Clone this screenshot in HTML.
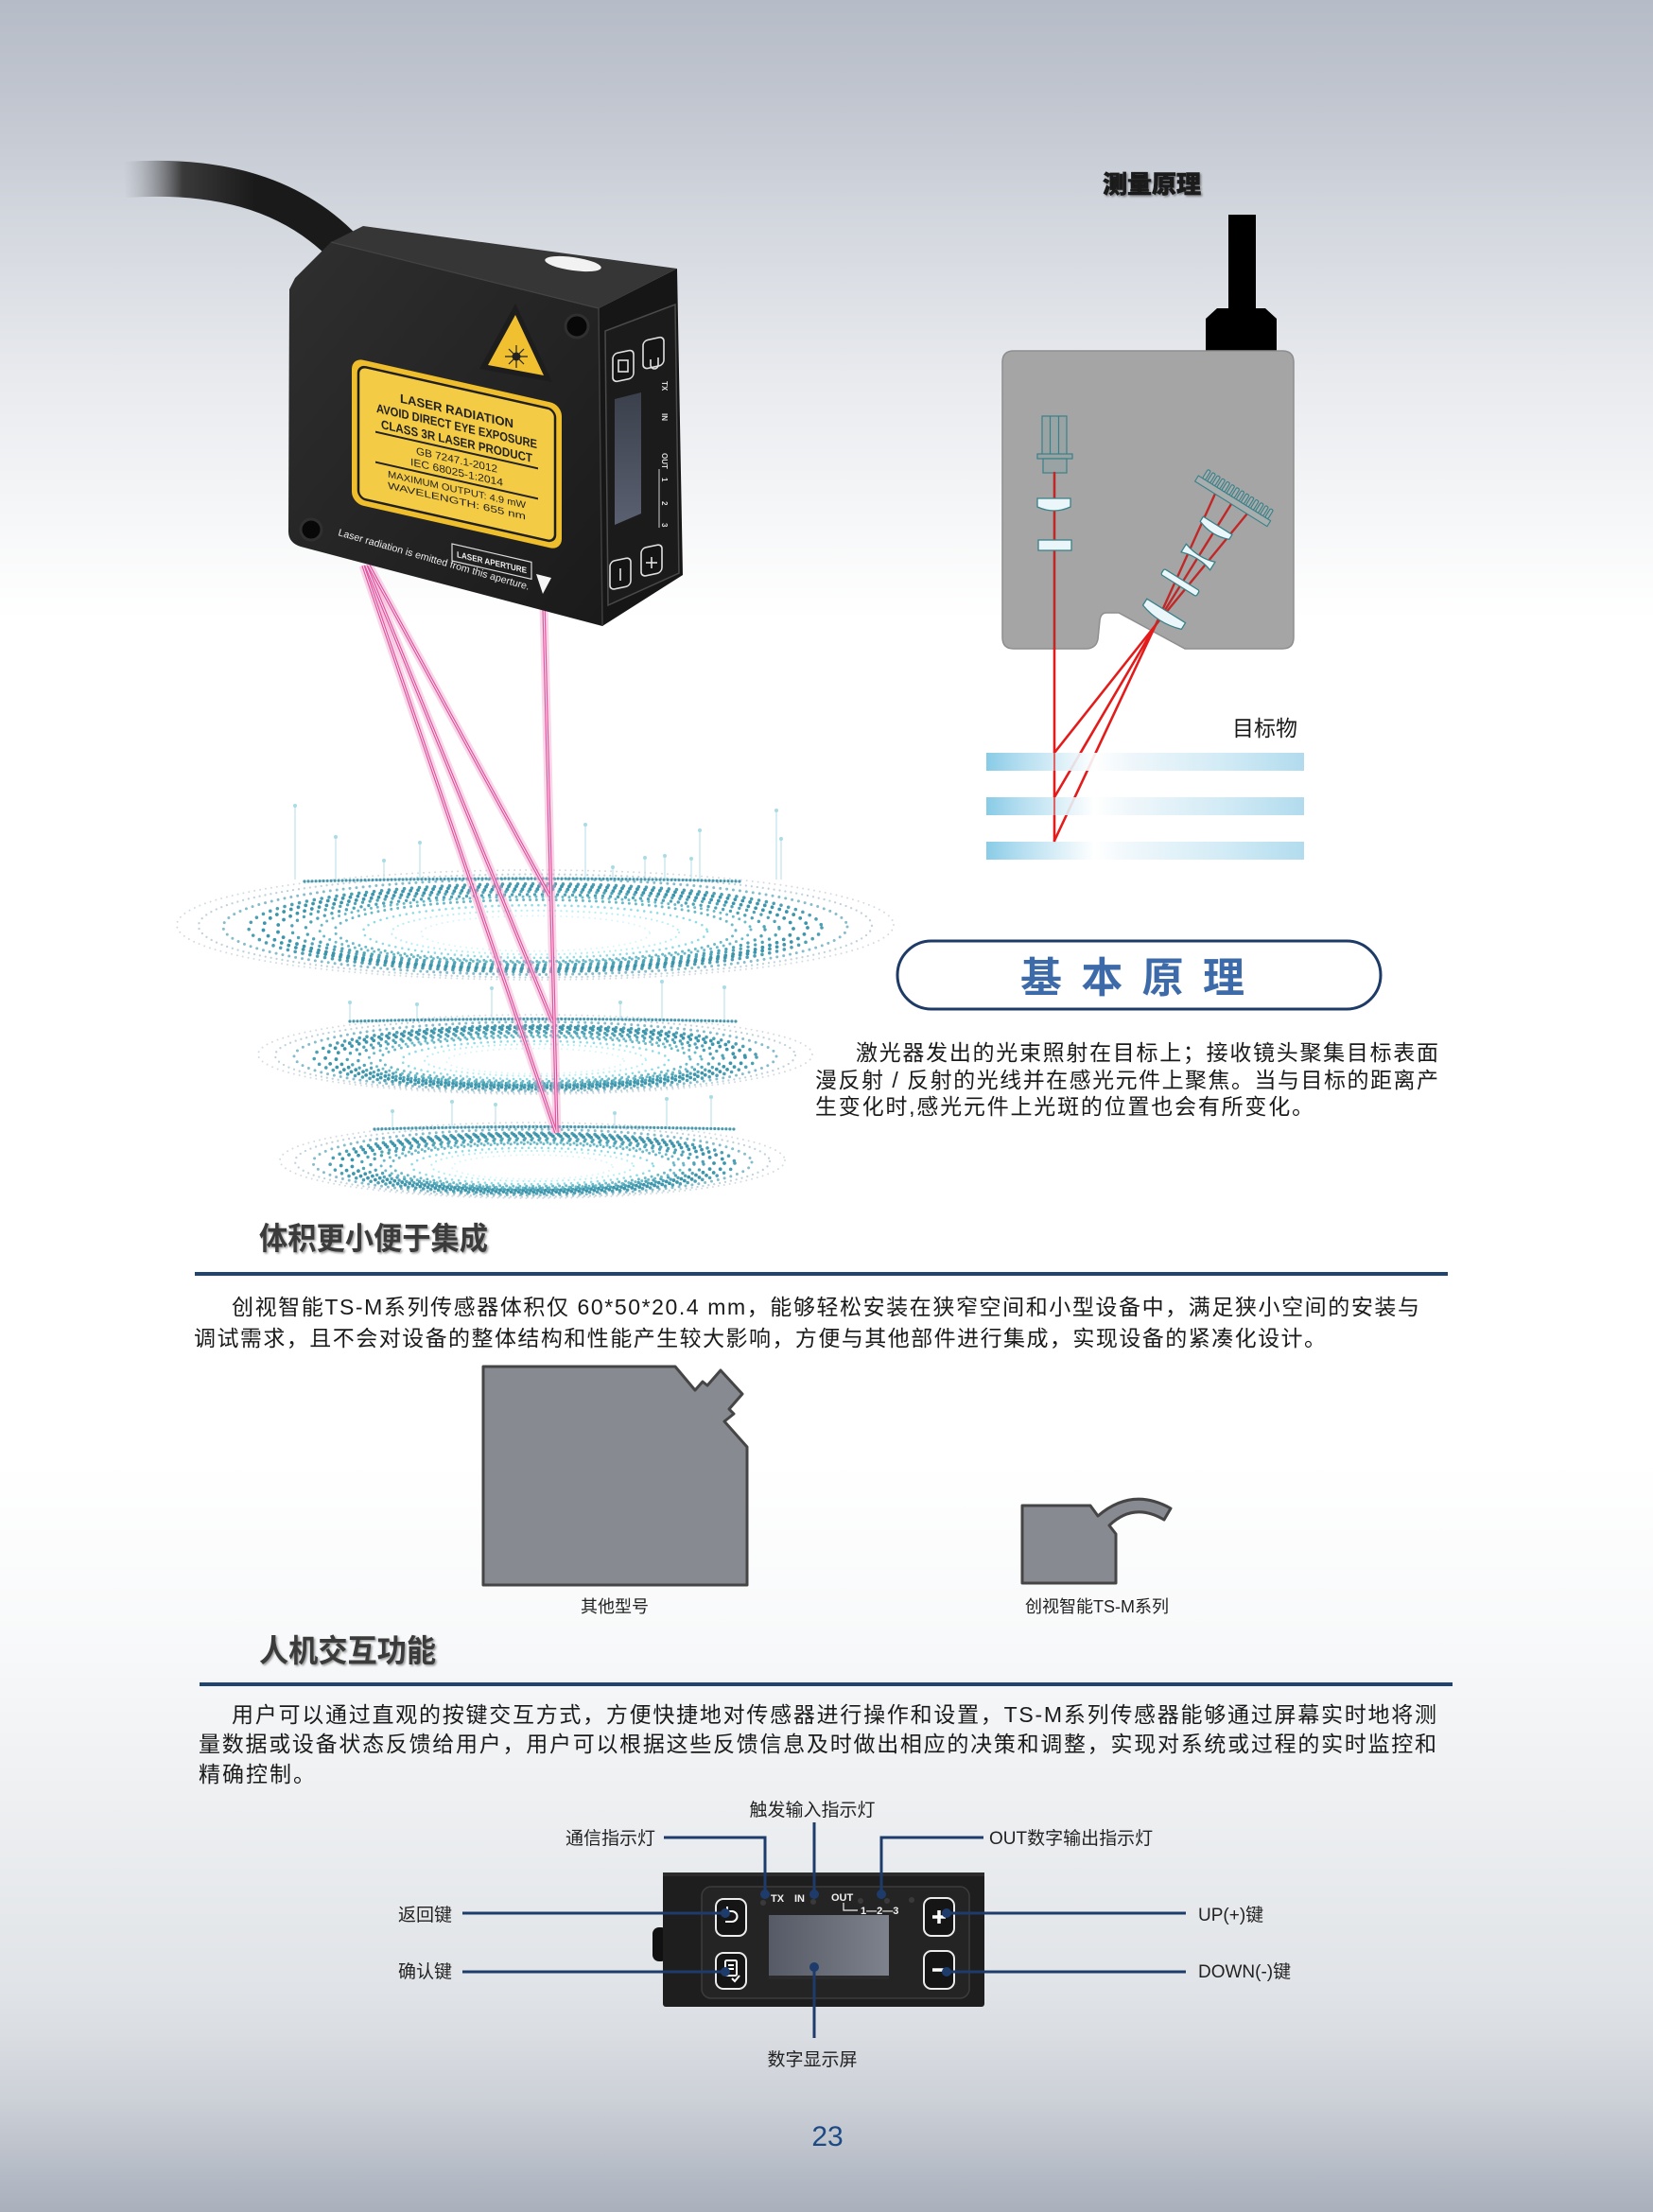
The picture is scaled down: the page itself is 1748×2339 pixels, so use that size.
<!DOCTYPE html>
<html><head><meta charset="utf-8">
<style>
html,body{margin:0;padding:0;background:#fff;}
body{width:1748px;height:2339px;overflow:hidden;}
svg{display:block;}
text{font-family:"Liberation Sans","Noto Sans CJK SC",sans-serif;}
.r1{fill:none;stroke:#d3dbe0;stroke-width:2;stroke-dasharray:0 6;stroke-linecap:round}
.r2{fill:none;stroke:#bfd2da;stroke-width:2.3;stroke-dasharray:0 6;stroke-linecap:round}
.r3{fill:none;stroke:#86bccb;stroke-width:3;stroke-dasharray:0 7;stroke-linecap:round}
.r4{fill:none;stroke:#4d9fb3;stroke-width:3.6;stroke-dasharray:0 8;stroke-linecap:round}
.r5{fill:none;stroke:#3d95ab;stroke-width:3.8;stroke-dasharray:0 8;stroke-linecap:round}
.r6{fill:none;stroke:#4ea3b6;stroke-width:3.4;stroke-dasharray:0 8;stroke-linecap:round}
.r7{fill:none;stroke:#6bbac8;stroke-width:3;stroke-dasharray:0 7;stroke-linecap:round}
.r8{fill:none;stroke:#8ddbe5;stroke-width:2.6;stroke-dasharray:0 7;stroke-linecap:round}
.r9{fill:none;stroke:#b5eef3;stroke-width:2.2;stroke-dasharray:0 6;stroke-linecap:round}
.r10{fill:none;stroke:#d8f6f8;stroke-width:2;stroke-dasharray:0 6;stroke-linecap:round}
.rim{fill:none;stroke:#4a98ad;stroke-width:3.2;stroke-dasharray:0 4;stroke-linecap:round}
.ant{stroke:#bfe3ea;stroke-width:1.2}
.antd{fill:#a9dbe5}
.beamg{fill:none;stroke:#f5a3cf;stroke-width:9;opacity:.45}
.beam{fill:none;stroke:#e0559f;stroke-width:3.4}
.beamc{fill:none;stroke:#fde3f0;stroke-width:1}
.lens{fill:#eaf6f9;stroke:#3a8088;stroke-width:1.3}
.nav{stroke:#1d3c6b;stroke-width:3;fill:none}
.lbl{font-size:19px;fill:#222}
</style></head><body>
<svg width="1748" height="2339" viewBox="0 0 1748 2339" xmlns="http://www.w3.org/2000/svg">
<defs>
 <linearGradient id="bg" x1="0" y1="0" x2="0" y2="1">
  <stop offset="0" stop-color="#b6bcc7"/>
  <stop offset="0.04" stop-color="#bfc4ce"/>
  <stop offset="0.1" stop-color="#d3d7de"/>
  <stop offset="0.17" stop-color="#e8eaee"/>
  <stop offset="0.24" stop-color="#f7f8f9"/>
  <stop offset="0.28" stop-color="#ffffff"/>
  <stop offset="0.66" stop-color="#ffffff"/>
  <stop offset="0.74" stop-color="#f8f9fa"/>
  <stop offset="0.81" stop-color="#eef0f2"/>
  <stop offset="0.9" stop-color="#e0e3e7"/>
  <stop offset="0.92" stop-color="#dadde2"/>
  <stop offset="0.95" stop-color="#ccd0d7"/>
  <stop offset="1" stop-color="#a9b0bc"/>
 </linearGradient>
 <linearGradient id="cab" x1="130" y1="0" x2="270" y2="0" gradientUnits="userSpaceOnUse">
  <stop offset="0" stop-color="#9a9ea6" stop-opacity="0"/>
  <stop offset="0.45" stop-color="#3a3a3a"/>
  <stop offset="1" stop-color="#1a1a1a"/>
 </linearGradient>
 <linearGradient id="front" x1="0" y1="0" x2="1" y2="1">
  <stop offset="0" stop-color="#2f2f2f"/>
  <stop offset="1" stop-color="#1a1a1a"/>
 </linearGradient>
 <linearGradient id="scr" x1="0" y1="0" x2="1" y2="0">
  <stop offset="0" stop-color="#555a66"/>
  <stop offset="1" stop-color="#7e828c"/>
 </linearGradient>
 <linearGradient id="scr2" x1="0" y1="0" x2="0" y2="1">
  <stop offset="0" stop-color="#3b404c"/>
  <stop offset="1" stop-color="#5a6070"/>
 </linearGradient>
 <linearGradient id="bar" x1="0" y1="0" x2="1" y2="0">
  <stop offset="0" stop-color="#7cc6e4"/>
  <stop offset="0.1" stop-color="#a9d9ee"/>
  <stop offset="0.34" stop-color="#ffffff"/>
  <stop offset="0.45" stop-color="#eef7fb"/>
  <stop offset="0.75" stop-color="#cde9f5"/>
  <stop offset="1" stop-color="#a9d8ec"/>
 </linearGradient>
 <filter id="sh" x="-5%" y="-20%" width="115%" height="150%">
  <feDropShadow dx="1.5" dy="1.5" stdDeviation="1" flood-color="#000" flood-opacity="0.4"/>
 </filter>
</defs>

<rect width="1748" height="2339" fill="url(#bg)"/>

<!-- ============ RIPPLE DISCS ============ -->
<g>
 <line class="ant" x1="312" y1="852" x2="312" y2="930"/><circle class="antd" cx="312" cy="852" r="2"/>
 <line class="ant" x1="355" y1="885" x2="355" y2="930"/><circle class="antd" cx="355" cy="885" r="2"/>
 <line class="ant" x1="406" y1="910" x2="406" y2="930"/><circle class="antd" cx="406" cy="910" r="2"/>
 <line class="ant" x1="444" y1="891" x2="444" y2="930"/><circle class="antd" cx="444" cy="891" r="2"/>
 <line class="ant" x1="619" y1="872" x2="619" y2="930"/><circle class="antd" cx="619" cy="872" r="2"/>
 <line class="ant" x1="648" y1="917" x2="648" y2="930"/><circle class="antd" cx="648" cy="917" r="2"/>
 <line class="ant" x1="682" y1="907" x2="682" y2="930"/><circle class="antd" cx="682" cy="907" r="2"/>
 <line class="ant" x1="703" y1="905" x2="703" y2="930"/><circle class="antd" cx="703" cy="905" r="2"/>
 <line class="ant" x1="731" y1="908" x2="731" y2="930"/><circle class="antd" cx="731" cy="908" r="2"/>
 <line class="ant" x1="740" y1="878" x2="740" y2="930"/><circle class="antd" cx="740" cy="878" r="2"/>
 <line class="ant" x1="821" y1="857" x2="821" y2="930"/><circle class="antd" cx="821" cy="857" r="2"/>
 <line class="ant" x1="826" y1="887" x2="826" y2="930"/><circle class="antd" cx="826" cy="887" r="2"/>
 <line class="ant" x1="370" y1="1060" x2="370" y2="1078"/><circle class="antd" cx="370" cy="1060" r="2"/>
 <line class="ant" x1="441" y1="1062" x2="441" y2="1078"/><circle class="antd" cx="441" cy="1062" r="2"/>
 <line class="ant" x1="520" y1="1045" x2="520" y2="1078"/><circle class="antd" cx="520" cy="1045" r="2"/>
 <line class="ant" x1="656" y1="1060" x2="656" y2="1078"/><circle class="antd" cx="656" cy="1060" r="2"/>
 <line class="ant" x1="700" y1="1038" x2="700" y2="1078"/><circle class="antd" cx="700" cy="1038" r="2"/>
 <line class="ant" x1="766" y1="1044" x2="766" y2="1078"/><circle class="antd" cx="766" cy="1044" r="2"/>
 <line class="ant" x1="415" y1="1175" x2="415" y2="1192"/><circle class="antd" cx="415" cy="1175" r="2"/>
 <line class="ant" x1="478" y1="1165" x2="478" y2="1192"/><circle class="antd" cx="478" cy="1165" r="2"/>
 <line class="ant" x1="524" y1="1168" x2="524" y2="1192"/><circle class="antd" cx="524" cy="1168" r="2"/>
 <line class="ant" x1="650" y1="1177" x2="650" y2="1192"/><circle class="antd" cx="650" cy="1177" r="2"/>
 <line class="ant" x1="705" y1="1162" x2="705" y2="1192"/><circle class="antd" cx="705" cy="1162" r="2"/>
 <line class="ant" x1="752" y1="1160" x2="752" y2="1192"/><circle class="antd" cx="752" cy="1160" r="2"/>

 <!-- disc 1 -->
 <ellipse class="r1" cx="566" cy="978" rx="379" ry="58"/>
 <ellipse class="r2" cx="566" cy="979" rx="356" ry="54.5"/>
 <ellipse class="r3" cx="566" cy="980" rx="330" ry="50.5"/>
 <ellipse class="r4" cx="566" cy="981" rx="303" ry="46.4"/>
 <ellipse class="r5" cx="566" cy="981" rx="288" ry="44"/>
 <ellipse class="r5" cx="566" cy="982" rx="273" ry="41.8"/>
 <ellipse class="r6" cx="566" cy="982" rx="258" ry="39.4"/>
 <ellipse class="r6" cx="566" cy="983" rx="243" ry="37.1"/>
 <ellipse class="r7" cx="566" cy="983" rx="228" ry="34.8"/>
 <ellipse class="r7" cx="566" cy="984" rx="212" ry="32.5"/>
 <ellipse class="r8" cx="566" cy="985" rx="182" ry="27.8"/>
 <ellipse class="r9" cx="566" cy="986" rx="152" ry="23.2"/>
 <ellipse class="r10" cx="566" cy="987" rx="121" ry="18.6"/>
 <path class="rim" d="M322,932 Q566,926 783,932"/>
 <!-- disc 2 -->
 <ellipse class="r1" cx="566" cy="1115" rx="293" ry="42"/>
 <ellipse class="r2" cx="566" cy="1116" rx="275" ry="39.5"/>
 <ellipse class="r3" cx="566" cy="1117" rx="255" ry="36.5"/>
 <ellipse class="r4" cx="566" cy="1118" rx="234" ry="33.6"/>
 <ellipse class="r5" cx="566" cy="1118" rx="222" ry="31.9"/>
 <ellipse class="r5" cx="566" cy="1118" rx="211" ry="30.2"/>
 <ellipse class="r6" cx="566" cy="1119" rx="199" ry="28.5"/>
 <ellipse class="r6" cx="566" cy="1119" rx="188" ry="26.9"/>
 <ellipse class="r7" cx="566" cy="1120" rx="176" ry="25.2"/>
 <ellipse class="r7" cx="566" cy="1120" rx="164" ry="23.5"/>
 <ellipse class="r8" cx="566" cy="1121" rx="141" ry="20.2"/>
 <ellipse class="r9" cx="566" cy="1121" rx="117" ry="16.8"/>
 <ellipse class="r10" cx="566" cy="1122" rx="94" ry="13.4"/>
 <path class="rim" d="M370,1080 Q566,1075 778,1080"/>
 <!-- disc 3 -->
 <ellipse class="r1" cx="563" cy="1227" rx="267" ry="40"/>
 <ellipse class="r2" cx="563" cy="1228" rx="251" ry="37.6"/>
 <ellipse class="r3" cx="563" cy="1229" rx="232" ry="34.8"/>
 <ellipse class="r4" cx="563" cy="1230" rx="214" ry="32"/>
 <ellipse class="r5" cx="563" cy="1230" rx="203" ry="30.4"/>
 <ellipse class="r5" cx="563" cy="1230" rx="192" ry="28.8"/>
 <ellipse class="r6" cx="563" cy="1231" rx="181" ry="27.2"/>
 <ellipse class="r6" cx="563" cy="1231" rx="171" ry="25.6"/>
 <ellipse class="r7" cx="563" cy="1232" rx="160" ry="24"/>
 <ellipse class="r7" cx="563" cy="1232" rx="150" ry="22.4"/>
 <ellipse class="r8" cx="563" cy="1233" rx="128" ry="19.2"/>
 <ellipse class="r9" cx="563" cy="1233" rx="107" ry="16"/>
 <ellipse class="r10" cx="563" cy="1234" rx="85" ry="12.8"/>
 <path class="rim" d="M396,1194 Q566,1189 778,1194"/>
</g>

<!-- ============ LASER BEAMS ============ -->
<g>
 <path class="beamg" d="M575,640 L589,1198"/>
 <path class="beamg" d="M390,598 L581,947"/>
 <path class="beamg" d="M387,598 L584,1080"/>
 <path class="beamg" d="M384,598 L588,1198"/>
 <path class="beam" d="M575,640 L589,1198"/>
 <path class="beam" d="M390,598 L581,947"/>
 <path class="beam" d="M387,598 L584,1080"/>
 <path class="beam" d="M384,598 L588,1198"/>
 <path class="beamc" d="M575,640 L589,1198"/>
 <path class="beamc" d="M390,598 L581,947"/>
 <path class="beamc" d="M387,598 L584,1080"/>
 <path class="beamc" d="M384,598 L588,1198"/>
</g>

<!-- ============ SENSOR ============ -->
<g>
 <path d="M132,190 C222,184 304,200 364,262" fill="none" stroke="url(#cab)" stroke-width="38"/>
 <polygon points="350,256 384,239 716,284 633,326" fill="#363636"/>
 <path d="M312,294 L350,256 L633,326 L637,662 L318,578 Q305,574 305,562 L306,306 Z" fill="url(#front)"/>
 <polygon points="633,326 716,284 722,608 637,662" fill="#161616"/>
 <line x1="633" y1="326" x2="637" y2="662" stroke="#3e3e3e" stroke-width="1.5"/>
 <line x1="350" y1="256" x2="633" y2="326" stroke="#444" stroke-width="1.2"/>
 <ellipse cx="606" cy="279" rx="30" ry="7" fill="#f2f2f2" transform="rotate(8 606 279)"/>
 <circle cx="610" cy="345" r="12" fill="#080808" stroke="#303030" stroke-width="3"/>
 <circle cx="329" cy="560" r="11" fill="#080808" stroke="#303030" stroke-width="3"/>

 <g transform="translate(372,378) skewY(12.7)">
  <rect x="0" y="0" width="222" height="154" rx="12" fill="#efbe2c"/>
  <rect x="7" y="7" width="208" height="140" rx="8" fill="#f4cb45" stroke="#1f1f1f" stroke-width="2.5"/>
  <g font-family="Liberation Sans, sans-serif" fill="#222" text-anchor="middle">
   <text x="111" y="36" font-size="13" font-weight="bold" textLength="120" lengthAdjust="spacingAndGlyphs">LASER RADIATION</text>
   <text x="111" y="52" font-size="13" font-weight="bold" textLength="170" lengthAdjust="spacingAndGlyphs">AVOID DIRECT EYE EXPOSURE</text>
   <text x="111" y="68" font-size="13" font-weight="bold" textLength="160" lengthAdjust="spacingAndGlyphs">CLASS 3R LASER PRODUCT</text>
   <line x1="25" y1="73" x2="197" y2="73" stroke="#222" stroke-width="2"/>
   <text x="111" y="87" font-size="11" textLength="86" lengthAdjust="spacingAndGlyphs">GB 7247.1-2012</text>
   <text x="111" y="100" font-size="11" textLength="98" lengthAdjust="spacingAndGlyphs">IEC 68025-1:2014</text>
   <line x1="25" y1="105" x2="197" y2="105" stroke="#222" stroke-width="2"/>
   <text x="111" y="118" font-size="10" textLength="146" lengthAdjust="spacingAndGlyphs">MAXIMUM OUTPUT: 4.9 mW</text>
   <text x="111" y="130" font-size="10" textLength="146" lengthAdjust="spacingAndGlyphs">WAVELENGTH:            655 nm</text>
  </g>
 </g>
 <polygon points="545,321 507,390 584,404" fill="#1d1d1d"/>
 <polygon points="545,333 516,386 575,397" fill="#f0c030"/>
 <circle cx="546" cy="377" r="4.5" fill="#222"/>
 <g stroke="#222" stroke-width="1.2">
  <line x1="546" y1="365" x2="546" y2="389"/><line x1="534" y1="377" x2="558" y2="377"/>
  <line x1="538" y1="369" x2="554" y2="385"/><line x1="554" y1="369" x2="538" y2="385"/>
 </g>
 <text transform="translate(357,566) rotate(16)" font-family="Liberation Sans, sans-serif" font-size="10.5" fill="#eee" textLength="210" lengthAdjust="spacingAndGlyphs">Laser radiation is emitted from this aperture.</text>
 <g transform="translate(478,575) skewY(13)">
  <rect x="0" y="0" width="84" height="18" fill="none" stroke="#ddd" stroke-width="1.2"/>
  <text x="42" y="13" text-anchor="middle" font-family="Liberation Sans, sans-serif" font-size="9" font-weight="bold" fill="#eee" textLength="74" lengthAdjust="spacingAndGlyphs">LASER APERTURE</text>
 </g>
 <polygon points="567,607 583,611 574,628" fill="#f5f5f5"/>

 <polygon points="640,350 714,322 718,606 643,640" fill="#1b1b1b" stroke="#4a4a4a" stroke-width="1.5"/>
 <polygon points="650,422 678,415 678,543 650,555" fill="url(#scr2)"/>
 <g fill="#141414" stroke="#e0e0e0" stroke-width="1.6">
  <rect x="648" y="372" width="22" height="30" rx="5" transform="skewY(-12) translate(0,140)"/>
  <rect x="680" y="360" width="22" height="30" rx="5" transform="skewY(-12) translate(0,145)"/>
  <rect x="645" y="592" width="22" height="30" rx="5" transform="skewY(-12) translate(0,139)"/>
  <rect x="678" y="580" width="22" height="30" rx="5" transform="skewY(-12) translate(0,144)"/>
 </g>
 <g stroke="#e0e0e0" stroke-width="1.6" fill="none">
  <rect x="654" y="381" width="10" height="12"/>
  <path d="M688,380 v6 a4,4 0 0 0 8,0 v-8"/>
  <line x1="656" y1="601" x2="656" y2="614"/>
  <line x1="689" y1="589" x2="689" y2="601"/><line x1="683" y1="595" x2="695" y2="595"/>
 </g>
 <g font-family="Liberation Sans, sans-serif" font-size="8" fill="#ddd" font-weight="bold">
  <text transform="translate(700,403) rotate(90)">TX</text>
  <text transform="translate(700,437) rotate(90)">IN</text>
  <text transform="translate(700,479) rotate(90)">OUT</text>
  <text transform="translate(700,505) rotate(90)">1</text>
  <text transform="translate(700,530) rotate(90)">2</text>
  <text transform="translate(700,553) rotate(90)">3</text>
 </g>
 <line x1="697" y1="496" x2="697" y2="558" stroke="#ccc" stroke-width="1"/>
</g>

<!-- ============ MEASUREMENT PRINCIPLE ============ -->
<text x="1166" y="204" font-size="26" font-weight="900" fill="#1a1a1a" stroke="#1a1a1a" stroke-width="0.6" textLength="104" lengthAdjust="spacingAndGlyphs" filter="url(#sh)">测量原理</text>
<rect x="1299" y="227" width="29" height="101" fill="#000"/>
<polygon points="1275,337 1287,326 1338,326 1350,337 1350,375 1275,375" fill="#000"/>
<path d="M1072,371 H1356 Q1368,371 1368,383 V674 Q1368,686 1356,686 H1253 L1183,648 H1170 Q1164,648 1163,656 L1161,676 Q1159,686 1148,686 H1072 Q1060,686 1060,674 V383 Q1060,371 1072,371 Z" fill="#a5a5a5" stroke="#8e8e8e" stroke-width="1.5"/>
<rect x="1102" y="440" width="26" height="41" fill="#9aa3a4" stroke="#3a8088" stroke-width="1.2"/>
<line x1="1110.5" y1="440" x2="1110.5" y2="481" stroke="#3a8088" stroke-width="1.2"/>
<line x1="1119.5" y1="440" x2="1119.5" y2="481" stroke="#3a8088" stroke-width="1.2"/>
<rect x="1097" y="480" width="37" height="5" fill="#9aa3a4" stroke="#3a8088" stroke-width="1.2"/>
<rect x="1103" y="485" width="25" height="15" fill="#9aa3a4" stroke="#3a8088" stroke-width="1.2"/>
<g stroke-linecap="round">
 <line x1="1115" y1="500" x2="1115" y2="686" stroke="#c02828" stroke-width="2.6"/>
 <line x1="1115" y1="686" x2="1115" y2="890" stroke="#e31b1b" stroke-width="2.6"/>
 <line x1="1115" y1="796" x2="1222" y2="661" stroke="#e31b1b" stroke-width="2.6"/>
 <line x1="1115" y1="843" x2="1222" y2="661" stroke="#e31b1b" stroke-width="2.6"/>
 <line x1="1115" y1="889" x2="1222" y2="661" stroke="#e31b1b" stroke-width="2.6"/>
 <line x1="1222" y1="661" x2="1285" y2="522" stroke="#c02828" stroke-width="2.4"/>
 <line x1="1222" y1="661" x2="1302" y2="533" stroke="#c02828" stroke-width="2.4"/>
 <line x1="1222" y1="661" x2="1319" y2="543" stroke="#c02828" stroke-width="2.4"/>
</g>
<path class="lens" d="M1097,527 H1132 V536 Q1114.5,544 1097,536 Z"/>
<rect class="lens" x="1098" y="571" width="35" height="11"/>
<path class="lens" transform="translate(1230,651) rotate(32)" d="M-24,-6 H24 V2 Q0,10 -24,2 Z"/>
<rect class="lens" transform="translate(1248,616) rotate(32)" x="-22" y="-3.5" width="44" height="7" rx="2"/>
<path class="lens" transform="translate(1267,589) rotate(32)" d="M-18,-5 Q0,1 18,-5 L18,5 Q0,-1 -18,5 Z"/>
<path class="lens" transform="translate(1285,560) rotate(32)" d="M-18,-5 H18 V1 Q0,8 -18,1 Z"/>
<g transform="translate(1306,526) rotate(32)" fill="#a8aeae" stroke="#3a8088" stroke-width="1.1">
 <rect x="-45" y="1" width="90" height="7"/>
 <rect x="-40" y="-10" width="3.5" height="11" rx="1.5"/>
 <rect x="-34" y="-10" width="3.5" height="11" rx="1.5"/>
 <rect x="-28" y="-10" width="3.5" height="11" rx="1.5"/>
 <rect x="-22" y="-10" width="3.5" height="11" rx="1.5"/>
 <rect x="-16" y="-10" width="3.5" height="11" rx="1.5"/>
 <rect x="-10" y="-10" width="3.5" height="11" rx="1.5"/>
 <rect x="-4" y="-10" width="3.5" height="11" rx="1.5"/>
 <rect x="2" y="-10" width="3.5" height="11" rx="1.5"/>
 <rect x="8" y="-10" width="3.5" height="11" rx="1.5"/>
 <rect x="14" y="-10" width="3.5" height="11" rx="1.5"/>
 <rect x="20" y="-10" width="3.5" height="11" rx="1.5"/>
 <rect x="26" y="-10" width="3.5" height="11" rx="1.5"/>
 <rect x="32" y="-10" width="3.5" height="11" rx="1.5"/>
 <rect x="38" y="-10" width="3.5" height="11" rx="1.5"/>
</g>
<g opacity="0.9">
 <rect x="1043" y="796" width="336" height="19" fill="url(#bar)"/>
 <rect x="1043" y="843" width="336" height="19" fill="url(#bar)"/>
 <rect x="1043" y="890" width="336" height="19" fill="url(#bar)"/>
</g>
<line x1="1115" y1="796" x2="1115" y2="890" stroke="#e31b1b" stroke-width="2" opacity="0.6"/>
<text x="1303" y="778" font-size="23" fill="#1a1a1a">目标物</text>

<!-- ============ BASIC PRINCIPLE ============ -->
<rect x="949" y="995" width="511" height="72" rx="36" fill="#fff" stroke="#1e3b68" stroke-width="3"/>
<text x="1079" y="1049" font-size="44" font-weight="bold" fill="#3d6aa8" textLength="237" lengthAdjust="spacing">基本原理</text>
<g font-size="23" fill="#1a1a1a">
 <text x="905" y="1121" textLength="616" lengthAdjust="spacing">激光器发出的光束照射在目标上；接收镜头聚集目标表面</text>
 <text x="862" y="1150" textLength="659" lengthAdjust="spacing">漫反射 / 反射的光线并在感光元件上聚焦。当与目标的距离产</text>
 <text x="862" y="1178" textLength="527" lengthAdjust="spacing">生变化时,感光元件上光斑的位置也会有所变化。</text>
</g>

<!-- ============ SECTION 2 ============ -->
<text x="274" y="1321" font-size="33" font-weight="bold" fill="#3a3a3a" textLength="242" lengthAdjust="spacingAndGlyphs" filter="url(#sh)">体积更小便于集成</text>
<rect x="206" y="1345" width="1325" height="4" fill="#1f4470"/>
<g font-size="23" fill="#1a1a1a">
 <text x="245" y="1390" textLength="1256" lengthAdjust="spacing">创视智能TS-M系列传感器体积仅 60*50*20.4 mm，能够轻松安装在狭窄空间和小型设备中，满足狭小空间的安装与</text>
 <text x="205" y="1423" textLength="1197" lengthAdjust="spacing">调试需求，且不会对设备的整体结构和性能产生较大影响，方便与其他部件进行集成，实现设备的紧凑化设计。</text>
</g>

<polygon points="511,1445 714,1445 735,1470 743,1461 748,1465 762,1449 785,1474 771,1490 776,1495 766,1503 790,1530 790,1676 511,1676" fill="#878a91" stroke="#454545" stroke-width="3" stroke-linejoin="round"/>
<path d="M1081,1592 L1153,1592 L1161,1603 Q1197,1572 1238,1595 L1231,1607 Q1199,1588 1173,1613 L1180,1622 L1180,1674 L1081,1674 Z" fill="#878a91" stroke="#454545" stroke-width="3" stroke-linejoin="round"/>
<text x="650" y="1705" font-size="18" fill="#222" text-anchor="middle">其他型号</text>
<text x="1160" y="1705" font-size="18" fill="#222" text-anchor="middle">创视智能TS-M系列</text>

<!-- ============ SECTION 3 ============ -->
<text x="274" y="1757" font-size="33" font-weight="bold" fill="#3a3a3a" textLength="187" lengthAdjust="spacingAndGlyphs" filter="url(#sh)">人机交互功能</text>
<rect x="211" y="1779" width="1325" height="4" fill="#1f4470"/>
<g font-size="23" fill="#1a1a1a">
 <text x="245" y="1821" textLength="1274" lengthAdjust="spacing">用户可以通过直观的按键交互方式，方便快捷地对传感器进行操作和设置，TS-M系列传感器能够通过屏幕实时地将测</text>
 <text x="210" y="1852" textLength="1309" lengthAdjust="spacing">量数据或设备状态反馈给用户，用户可以根据这些反馈信息及时做出相应的决策和调整，实现对系统或过程的实时监控和</text>
 <text x="210" y="1884" textLength="123" lengthAdjust="spacing">精确控制。</text>
</g>

<!-- ============ PANEL DEVICE ============ -->
<g>
 <rect x="690" y="2038" width="16" height="36" rx="7" fill="#111"/>
 <rect x="701" y="1980" width="340" height="142" rx="3" fill="#1e1e1e"/>
 <rect x="701" y="1980" width="340" height="4" fill="#2c2c2c"/>
 <rect x="742" y="1995" width="283" height="118" rx="10" fill="#242424" stroke="#3c3c3c" stroke-width="1.5"/>
 <rect x="813" y="2025" width="127" height="68" fill="url(#scr)"/>
 <rect x="813" y="2089" width="127" height="4" fill="#2a2a2a"/>
 <g fill="#151515" stroke="#ececec" stroke-width="2">
  <rect x="757" y="2008" width="32" height="39" rx="8"/>
  <rect x="757" y="2065" width="32" height="38" rx="8"/>
  <rect x="977" y="2007" width="32" height="40" rx="8"/>
  <rect x="977" y="2063" width="32" height="40" rx="8"/>
 </g>
 <g stroke="#fff" stroke-width="2" fill="none">
  <path d="M767,2021 h7 a5.5,5.5 0 0 1 0,11 h-7"/>
  <line x1="769" y1="2016" x2="769" y2="2020"/>
  <rect x="767" y="2073" width="12" height="16" rx="1.5"/>
  <line x1="770" y1="2078" x2="776" y2="2078"/>
  <line x1="770" y1="2082" x2="776" y2="2082"/>
  <path d="M774,2092 l3,3 l5,-6"/>
 </g>
 <g stroke="#fff" stroke-width="3.5">
  <line x1="986" y1="2027" x2="1000" y2="2027"/>
  <line x1="993" y1="2020" x2="993" y2="2034"/>
  <line x1="986" y1="2083" x2="1000" y2="2083"/>
 </g>
 <g font-family="Liberation Sans, sans-serif" font-weight="bold" font-size="11" fill="#f0f0f0">
  <text x="815" y="2011">TX</text>
  <text x="840" y="2011">IN</text>
  <text x="879" y="2010">OUT</text>
  <text x="910" y="2024" font-size="11">1—2—3</text>
 </g>
 <path d="M892,2012 V2020 H907" stroke="#f0f0f0" stroke-width="1.2" fill="none"/>
 <g fill="#3a3a3a">
  <circle cx="807" cy="2012" r="3"/>
  <circle cx="860" cy="2011" r="3"/>
  <circle cx="910" cy="2010" r="3"/>
  <circle cx="938" cy="2010" r="3"/>
  <circle cx="964" cy="2009" r="3"/>
 </g>
</g>
<g>
 <path class="nav" d="M702,1943 H809 V2003"/>
 <path class="nav" d="M861,1927 V2003"/>
 <path class="nav" d="M1040,1943 H932 V2003"/>
 <path class="nav" d="M489,2023 H767"/>
 <path class="nav" d="M489,2085 H767"/>
 <path class="nav" d="M1254,2023 H1001"/>
 <path class="nav" d="M1254,2085 H1001"/>
 <path class="nav" d="M861,2080 V2155"/>
 <g fill="#1d3c6b">
  <circle cx="809" cy="2003" r="5"/>
  <circle cx="861" cy="2003" r="5"/>
  <circle cx="932" cy="2003" r="5"/>
  <circle cx="767" cy="2023" r="5"/>
  <circle cx="767" cy="2085" r="5"/>
  <circle cx="1001" cy="2023" r="5"/>
  <circle cx="1001" cy="2085" r="5"/>
  <circle cx="861" cy="2080" r="5"/>
 </g>
</g>
<g class="lbl">
 <text class="lbl" x="693" y="1950" text-anchor="end">通信指示灯</text>
 <text class="lbl" x="859" y="1920" text-anchor="middle">触发输入指示灯</text>
 <text class="lbl" x="1046" y="1950">OUT数字输出指示灯</text>
 <text class="lbl" x="421" y="2031">返回键</text>
 <text class="lbl" x="421" y="2091">确认键</text>
 <text class="lbl" x="1267" y="2031">UP(+)键</text>
 <text class="lbl" x="1267" y="2091">DOWN(-)键</text>
 <text class="lbl" x="859" y="2184" text-anchor="middle">数字显示屏</text>
</g>

<text x="875" y="2269" font-size="30" fill="#1d4a85" text-anchor="middle">23</text>
</svg>
</body></html>
